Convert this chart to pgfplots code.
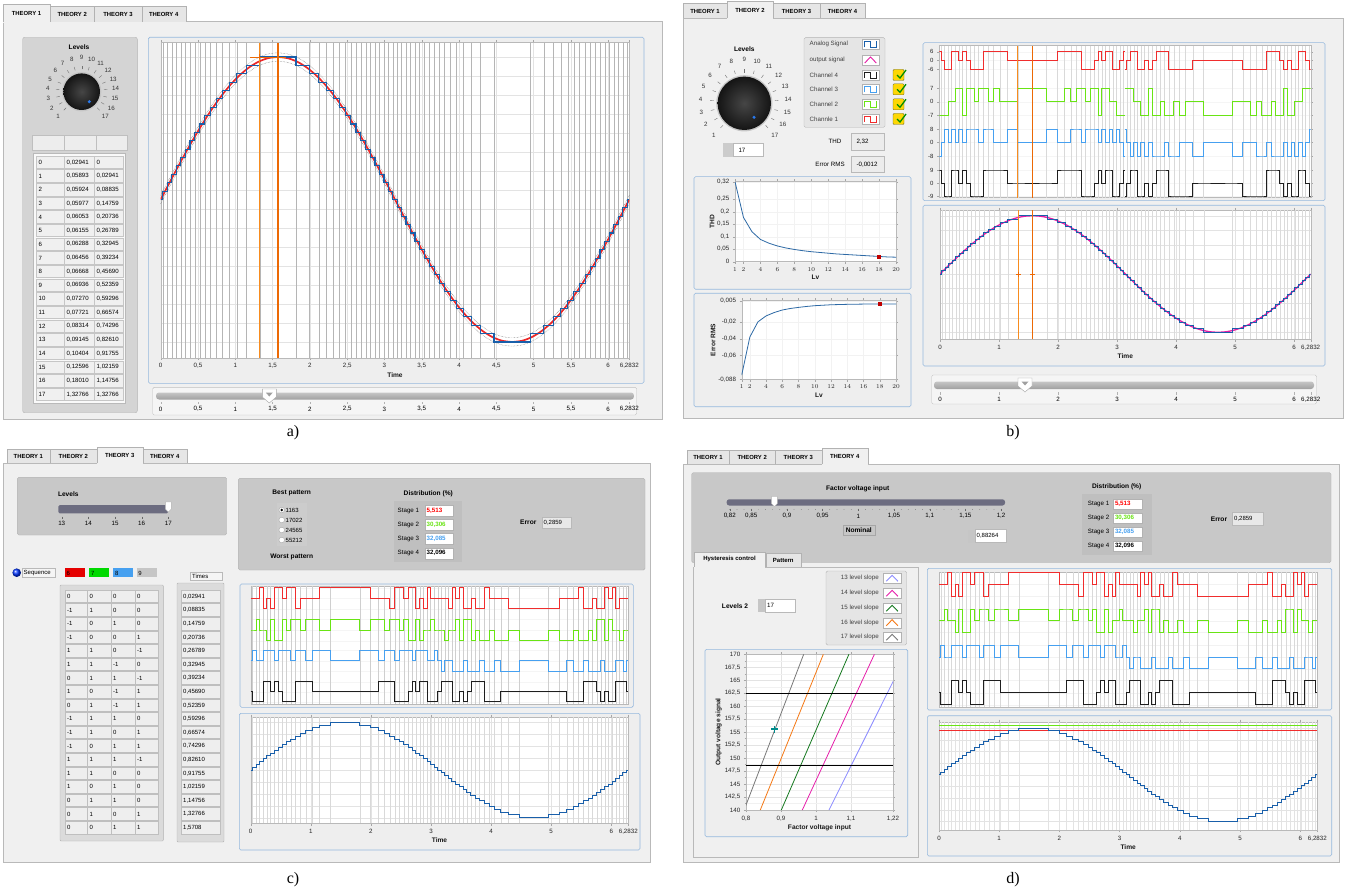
\documentclass[border=0pt]{standalone}
\usepackage{fontspec}
\setmainfont{Liberation Sans}
\newfontfamily\capfont{Liberation Serif}
\usepackage{pgfplots}
\usepackage{pgfplotstable}
\pgfplotsset{compat=1.18}

\newcommand\fs[1]{\fontsize{#1}{#1}\selectfont}

\definecolor{panelbg}{RGB}{240,240,240}
\definecolor{tabbg}{RGB}{230,230,230}
\definecolor{boxbg}{RGB}{212,212,212}
\definecolor{ctrlbg}{RGB}{200,200,200}
\definecolor{framebg}{RGB}{238,238,238}
\definecolor{frameedge}{RGB}{150,185,222}
\definecolor{stepblue}{RGB}{25,95,170}
\definecolor{sinered}{RGB}{235,40,40}
\definecolor{curA}{RGB}{248,140,30}
\definecolor{curB}{RGB}{236,105,5}
\definecolor{chR}{RGB}{240,45,45}
\definecolor{chG}{RGB}{105,228,20}
\definecolor{chB}{RGB}{70,160,240}
\definecolor{chK}{RGB}{30,30,30}
\definecolor{pinksig}{RGB}{228,30,165}
\definecolor{thdblue}{RGB}{45,105,165}
\definecolor{dotblue}{RGB}{40,120,235}
\definecolor{slate}{RGB}{108,108,128}
\definecolor{sl13}{RGB}{140,140,255}
\definecolor{sl14}{RGB}{230,30,170}
\definecolor{sl15}{RGB}{20,120,30}
\definecolor{sl16}{RGB}{245,120,20}
\definecolor{sl17}{RGB}{120,120,120}
\definecolor{crossc}{RGB}{0,140,140}

% switching instants of the 17-level staircase in the first quarter period
\pgfplotstableread{
k  t
1  0.02941
2  0.08835
3  0.14759
4  0.20736
5  0.26789
6  0.32945
7  0.39234
8  0.45690
9  0.52359
10 0.59296
11 0.66574
12 0.74296
13 0.82610
14 0.91755
15 1.02159
16 1.14756
17 1.32766
}\swtab

% first quarter period: interval start, staircase level, channel states
\pgfplotstableread{
t       lev cR cG cB cK bR bG bB
0.00000 0    0  0  0  0  1 -1 -1
0.02941 1    0  0  1 -1  0 -1  0
0.08835 2    0  1  0 -1 -1 -1  1
0.14759 3    1  0  0 -1 -1  0  0
0.20736 4   -1  0  1  1  1  0  1
0.26789 5    0 -1  1  1  1  1  0
0.32945 6   -1  1  1  0  0  1  1
0.39234 7    1 -1  0  1  1 -1  0
0.45690 8    1 -1  1  0  0  1  1
0.52359 9    0  1  1 -1 -1  1  1
0.59296 10   1  0  1 -1 -1  0  1
0.66574 11   1  1  0 -1 -1  1  0
0.74296 12  -1  1  1  1  1  1  1
0.82610 13   0  0  1  1  1  0  1
0.91755 14   0  1  0  1  1  1  0
1.02159 15   0  1  1  0  1  0  0
1.14756 16   1  0  1  0  0  0  1
1.32766 17   1  1  0  0  0  1  0
1.57080 17   1  1  0  0  0  1  0
}\quarter

% reference sine, first quarter
\pgfplotstableread{
t      s
0.0000 0.0000
0.1309 0.1305
0.2618 0.2588
0.3927 0.3827
0.5236 0.5000
0.6545 0.6088
0.7854 0.7071
0.9163 0.7934
1.0472 0.8660
1.1781 0.9239
1.3090 0.9659
1.4399 0.9914
1.5708 1.0000
}\sinq

\pgfplotstableread{
lv thd
1  0.320
2  0.177
3  0.120
4  0.089
5  0.074
6  0.063
7  0.055
8  0.049
9  0.044
10 0.040
11 0.037
12 0.034
13 0.031
14 0.029
15 0.027
16 0.025
17 0.023
18 0.021
19 0.019
20 0.018
}\thdtab

\pgfplotstableread{
lv err
1  -0.0830
2  -0.0380
3  -0.0200
4  -0.0130
5  -0.0090
6  -0.0060
7  -0.0042
8  -0.0029
9  -0.0018
10 -0.0009
12  0.0002
14  0.0007
16  0.0010
18  0.0012
20  0.0012
}\rmstab

% a quarter-wave symmetric curve built from its first quarter
\newcommand\qsym[5]{%
 \addplot[#1] table[x expr=\thisrow{t}, y expr={#5+#4*\thisrow{#3}}] {#2};
 \addplot[#1] table[x expr=3.14159-\thisrow{t}, y expr={#5+#4*\thisrow{#3}}] {#2};
 \addplot[#1] table[x expr=3.14159+\thisrow{t}, y expr={#5-#4*\thisrow{#3}}] {#2};
 \addplot[#1] table[x expr=6.28319-\thisrow{t}, y expr={#5-#4*\thisrow{#3}}] {#2};}
\newcommand\chan[4]{\qsym{#1, line width=0.9pt, const plot}{\quarter}{#2}{#3}{#4}}
% full-height lines at every switching instant: colour, vertical centre, half height
\newcommand\swgrid[3]{\qsym{only marks, mark=|, mark size=#3, color=#1, mark options={line width=0.35pt}}{\swtab}{k}{0}{#2}}

\pgfplotsset{
 lv/.style={
  scale only axis, anchor=north west,
  axis background/.style={fill=white},
  axis line style={draw=gray!55, line width=0.4pt},
  tick style={draw=gray!70, line width=0.3pt},
  tick align=outside,
  major tick length=2.2pt, minor tick length=1.2pt,
  tick label style={font=\fs{6.2}, text=black!85},
  label style={font=\fs{6.6}\bfseries, text=black!90},
  major grid style={draw=gray!22, line width=0.35pt},
  minor grid style={draw=gray!9, line width=0.3pt},
  xlabel style={yshift=3pt},
  scaled ticks=false,
 },
 tax/.style={lv, xmin=0, xmax=6.2832,
  xtick={0,1,2,3,4,5,6,6.2832}, xticklabels={0,1,2,3,4,5,6,{6,2832}},
  minor x tick num=4, xmajorgrids, xminorgrids, ymajorgrids,
  yticklabels={}, ytick style={draw=none}, clip marker paths=true,
 },
 pax/.style={lv, xmin=0, xmax=6.2832, xtick=\empty, ymajorgrids, clip marker paths=true},
}

% GUI helpers (scope units: 1pt, y downwards)
\newcommand\tabu[5]{%
 \draw[gray!60, fill=tabbg] (#1,#4) -- (#1,#3) -- (#2,#3) -- (#2,#4);
 \node[font=\fs{5.9}\bfseries, inner sep=0pt] at ({(#1+#2)/2},{(#3+#4)/2+0.6}) {#5};}
\newcommand\tabsel[5]{%
 \fill[panelbg] (#1,#3) rectangle (#2,#4+1);
 \draw[gray!60] (#1,#4) -- (#1,#3) -- (#2,#3) -- (#2,#4);
 \node[font=\fs{5.9}\bfseries, inner sep=0pt] at ({(#1+#2)/2},{(#3+#4)/2+0.3}) {#5};}
\newcommand\frm[4]{\draw[frameedge, fill=framebg, rounded corners=1.5pt, line width=0.6pt] (#1,#2) rectangle (#3,#4);}
\newcommand\knob[4]{%
 \foreach \i in {1,...,17}{%
  \pgfmathsetmacro\ang{226-17*(\i-1)}%
  \draw[black!55, line width=0.4pt] ({#1+(#3+4)*cos(\ang)},{#2-(#3+4)*sin(\ang)}) -- ({#1+(#3+7.5)*cos(\ang)},{#2-(#3+7.5)*sin(\ang)});
  \node[font=\fs{6.2}, inner sep=0pt, text=black!80] at ({#1+#4*cos(\ang)},{#2-#4*sin(\ang)}) {\i};
 }%
 \fill[gray!45] (#1,#2) circle ({#3+1.4});
 \shade[inner color=gray!55!black, outer color=black!92] (#1,#2) circle (#3);}
\newcommand\sqicon[3]{%
 \draw[gray!60, fill=white] (#1,#2-5) rectangle (#1+17.6,#2+5);
 \draw[#3, line width=0.9pt] (#1+3,#2+3) -- (#1+3,#2-3) -- (#1+9,#2-3) -- (#1+9,#2+3) -- (#1+14.6,#2+3) -- (#1+14.6,#2-3);}
\newcommand\caret[3]{%
 \draw[gray!60, fill=white] (#1,#2-5) rectangle (#1+17.6,#2+5);
 \draw[#3, line width=0.9pt] (#1+3,#2+3) -- (#1+8.8,#2-3) -- (#1+14.6,#2+3);}
\newcommand\chk[2]{%
 \draw[olive!70!black, fill=yellow!75!orange, rounded corners=1pt] (#1,#2-5.5) rectangle (#1+11,#2+5.5);
 \draw[green!55!black, line width=1.3pt] (#1+4,#2) -- (#1+7,#2+3) -- (#1+13,#2-5);}
\newcommand\thumb[2]{%
 \draw[gray!70, fill=white] (#1-7,#2-7) -- (#1+7,#2-7) -- (#1+7,#2+1) -- (#1,#2+7) -- (#1-7,#2+1) -- cycle;
 \fill[gray!75] (#1-3.5,#2-3.5) -- (#1+3.5,#2-3.5) -- (#1,#2+0.5) -- cycle;}
\newcommand\pin[2]{%
 \draw[gray!60, fill=white] (#1-3,#2-5) -- (#1+3,#2-5) -- (#1+3,#2+2) -- (#1,#2+5) -- (#1-3,#2+2) -- cycle;}

\begin{document}
\begin{tikzpicture}[font=\fs{6.2}]
\path[use as bounding box] (0pt,0pt) rectangle (1347pt,-893pt);
\fill[white] (0pt,0pt) rectangle (1347pt,-893pt);

\begin{scope}[x=1pt,y=-1pt]
% ================= panel a =================
\draw[gray!55, fill=panelbg] (3,21.7) rectangle (662,419);
\tabu{50}{94.3}{6.7}{21.7}{THEORY 2}
\tabu{94.3}{141.7}{6.7}{21.7}{THEORY 3}
\tabu{141.7}{185.7}{6.7}{21.7}{THEORY 4}
\tabsel{3}{50}{4.5}{21.7}{THEORY 1}
\draw[gray!60, fill=boxbg, rounded corners=2pt] (22.7,37.3) rectangle (137.3,412.7);
\node[font=\fs{6.6}\bfseries] at (79,47.3) {Levels};
\knob{81.7}{91.7}{18.3}{34}
\fill[dotblue] (89.3,101.7) circle (1.7);
\foreach \x/\w in {31.7/32.3,64/32,96/30.7} \draw[gray!50, fill=gray!14] (\x,135) rectangle ++(\w,15);
\draw[gray!55, fill=gray!5] (33,153.5) rectangle (125.5,403.5);
\foreach \n/\wa/\wb [count=\i from 0] in {0/{0,02941}/0, 1/{0,05893}/{0,02941}, 2/{0,05924}/{0,08835}, 3/{0,05977}/{0,14759},
 4/{0,06053}/{0,20736}, 5/{0,06155}/{0,26789}, 6/{0,06288}/{0,32945}, 7/{0,06456}/{0,39234}, 8/{0,06668}/{0,45690},
 9/{0,06936}/{0,52359}, 10/{0,07270}/{0,59296}, 11/{0,07721}/{0,66574}, 12/{0,08314}/{0,74296}, 13/{0,09145}/{0,82610},
 14/{0,10404}/{0,91755}, 15/{0,12596}/{1,02159}, 16/{0,18010}/{1,14756}, 17/{1,32766}/{1,32766}}{
  \pgfmathsetmacro\yy{155.8+13.66*\i}
  \draw[gray!45, fill=gray!12] (36,\yy) rectangle (64,\yy+12.6);
  \draw[gray!45, fill=gray!12] (64,\yy) rectangle (94,\yy+12.6);
  \draw[gray!45, fill=gray!12] (94,\yy) rectangle (123,\yy+12.6);
  \node[anchor=west, inner sep=0pt, font=\fs{6.1}] at (38.5,\yy+6.5) {\n};
  \node[anchor=west, inner sep=0pt, font=\fs{6.1}] at (66.5,\yy+6.5) {\wa};
  \node[anchor=west, inner sep=0pt, font=\fs{6.1}] at (96.5,\yy+6.5) {\wb};
}
\frm{148.3}{37.3}{644}{383.3}
\draw[gray!50, fill=gray!8, rounded corners=1.5pt] (152.7,387.3) rectangle (636.7,415);
\shade[top color=gray!45, bottom color=gray!75, rounded corners=3pt] (156,392.5) rectangle (634,399.5);
\foreach \v/\l in {0/0,0.5/{0,5},1/1,1.5/{1,5},2/2,2.5/{2,5},3/3,3.5/{3,5},4/4,4.5/{4,5},5/5,5.5/{5,5},6/6,6.2832/{6,2832}}{
  \draw[gray!60, line width=0.3pt] ({160.7+\v*74.58},402) -- ({160.7+\v*74.58},404);
  \node[font=\fs{6.2}, inner sep=0pt] at ({160.7+\v*74.58},409) {\l};
}
\thumb{269.3}{396}

% ================= panel b =================
\draw[gray!55, fill=panelbg] (683,18) rectangle (1343,418);
\tabu{683}{727}{3.5}{18}{THEORY 1}
\tabu{773}{820}{3.5}{18}{THEORY 3}
\tabu{820}{865}{3.5}{18}{THEORY 4}
\tabsel{727}{773}{1.5}{18}{THEORY 2}
\node[font=\fs{6.6}\bfseries] at (744.3,49.3) {Levels};
\knob{744.3}{103.3}{26.7}{44}
\fill[dotblue] (754,117.3) circle (1.7);
\fill[gray!40] (723.3,143.3) rectangle (733,156.7);
\draw[gray!55, fill=white] (733,143.3) rectangle (763.3,156.7);
\node[anchor=west, font=\fs{6.2}] at (735,150) {17};
\draw[gray!60, fill=gray!20, rounded corners=1.5pt] (804,37.7) rectangle (885,127.3);
\foreach \yy/\l in {44.3/Analog Signal,60/output signal,75/Channel 4,89.3/Channel 3,104.3/Channel 2,119/Channle 1}
  \node[anchor=west, font=\fs{6.2}, text=black!75, inner sep=0pt] at (809.5,\yy) {\l};
\sqicon{861.7}{44.3}{stepblue}
\caret{861.7}{60}{pinksig}
\sqicon{861.7}{75}{chK}
\sqicon{861.7}{89.3}{chB}
\sqicon{861.7}{104.3}{chG}
\sqicon{861.7}{119}{chR}
\chk{893}{75}\chk{893}{89.3}\chk{893}{104.3}\chk{893}{119}
\node[font=\fs{6.2}] at (835,141.7) {THD};
\draw[gray!55, fill=gray!15] (850.7,133.3) rectangle (884,150);
\node[anchor=west, font=\fs{6.2}] at (853,141.7) {2,32};
\node[font=\fs{6.2}] at (830,164.5) {Error RMS};
\draw[gray!55, fill=gray!15] (850.7,156.7) rectangle (884,172.3);
\node[anchor=west, font=\fs{6.2}] at (853,164.5) {-0,0012};
\frm{694}{176.7}{911}{289.3}
\frm{694}{293.3}{911}{406.7}
\frm{923}{42.7}{1325}{200.7}
\frm{923}{205.3}{1325}{366}
\draw[gray!50, fill=gray!8, rounded corners=1.5pt] (931.7,375) rectangle (1316.7,404);
\shade[top color=gray!45, bottom color=gray!75, rounded corners=3pt] (934,381.5) rectangle (1314,389);
\foreach \v/\l in {0/0,1/1,2/2,3/3,4/4,5/5,6/6,6.2832/{6,2832}}{
  \draw[gray!60, line width=0.3pt] ({940+\v*59},392) -- ({940+\v*59},394.5);
  \node[font=\fs{6.2}, inner sep=0pt] at ({940+\v*59},399.5) {\l};
}
\thumb{1025}{385}

% ================= panel c =================
\draw[gray!55, fill=panelbg] (3,463.3) rectangle (650,862);
\tabu{6.7}{50}{449.3}{463.3}{THEORY 1}
\tabu{50}{96.7}{449.3}{463.3}{THEORY 2}
\tabu{142.7}{186.7}{449.3}{463.3}{THEORY 4}
\tabsel{96.7}{142.7}{447}{463.3}{THEORY 3}
\draw[gray!60, fill=ctrlbg, rounded corners=1.5pt] (17.3,477.3) rectangle (226.7,535);
\node[font=\fs{6.6}\bfseries] at (68.3,494.3) {Levels};
\fill[slate, rounded corners=1.5pt] (58.3,505) rectangle (168.3,513.3);
\foreach \i in {13,...,17}{
  \draw[black!60, line width=0.3pt] ({61.7+26.65*(\i-13)},516.5) -- ({61.7+26.65*(\i-13)},518.5);
  \node[font=\fs{6.2}, inner sep=0pt] at ({61.7+26.65*(\i-13)},523.5) {\i};
}
\pin{168.3}{507}
\shade[ball color=blue!80!cyan] (16.7,572.7) circle (4.3);
\draw[gray!55, fill=gray!8] (21.7,568.3) rectangle (55,577.3);
\node[anchor=west, font=\fs{6}, inner sep=0pt] at (23.5,573) {Sequence};
\fill[red!90!black] (65,568.3) rectangle (85,577.3);
\fill[green!85!black] (89.3,568.3) rectangle (109.3,577.3);
\fill[chB] (113.3,568.3) rectangle (133.3,577.3);
\fill[gray!45] (136.7,568.3) rectangle (156.7,577.3);
\node[anchor=west, font=\fs{6}, inner sep=0pt] at (66.5,573) {6};
\node[anchor=west, font=\fs{6}, inner sep=0pt] at (90.8,573) {7};
\node[anchor=west, font=\fs{6}, inner sep=0pt] at (114.8,573) {8};
\node[anchor=west, font=\fs{6}, inner sep=0pt] at (138.2,573) {9};
\draw[gray!55, fill=gray!8] (190,571.7) rectangle (221.7,580);
\node[anchor=west, font=\fs{6}, inner sep=0pt] at (192,576) {Times};
\draw[gray!60, fill=gray!28, rounded corners=1pt] (60,585) rectangle (163.3,841);
\foreach \sa/\sb/\sc/\sd [count=\i from 0] in {0/0/0/0, -1/1/0/0, -1/0/1/0, -1/0/0/1, 1/1/0/-1, 1/1/-1/0, 0/1/1/-1, 1/0/-1/1, 0/1/-1/1,
 -1/1/1/0, -1/1/0/1, -1/0/1/1, 1/1/1/-1, 1/1/0/0, 1/0/1/0, 0/1/1/0, 0/1/0/1, 0/0/1/1}{
  \pgfmathsetmacro\yy{590+13.6*\i}
  \foreach \xa/\xb in {65/87.3,87.3/111,111/135,135/158.3} \draw[gray!50, fill=gray!13] (\xa,\yy) rectangle (\xb,\yy+12.6);
  \node[anchor=west, inner sep=0pt, font=\fs{6}] at (67,\yy+6.5) {\sa};
  \node[anchor=west, inner sep=0pt, font=\fs{6}] at (89.3,\yy+6.5) {\sb};
  \node[anchor=west, inner sep=0pt, font=\fs{6}] at (113,\yy+6.5) {\sc};
  \node[anchor=west, inner sep=0pt, font=\fs{6}] at (137,\yy+6.5) {\sd};
}
\draw[gray!60, fill=gray!28, rounded corners=1pt] (177,583) rectangle (224,842);
\foreach \tv [count=\i from 0] in {{0,02941},{0,08835},{0,14759},{0,20736},{0,26789},{0,32945},{0,39234},{0,45690},{0,52359},
 {0,59296},{0,66574},{0,74296},{0,82610},{0,91755},{1,02159},{1,14756},{1,32766},{1,5708}}{
  \pgfmathsetmacro\yy{590+13.6*\i}
  \draw[gray!50, fill=gray!13] (181,\yy) rectangle (220,\yy+12.6);
  \node[anchor=west, inner sep=0pt, font=\fs{6}] at (183,\yy+6.5) {\tv};
}
\draw[gray!60, fill=ctrlbg, rounded corners=1.5pt] (238.3,478.3) rectangle (645,570);
\node[font=\fs{6.6}\bfseries] at (291.7,493.3) {Best pattern};
\fill[gray!40] (276.7,503.3) rectangle (306.7,546);
\foreach \yy/\l in {510/1163,520/17022,530/24565,540/55212}{
  \draw[gray!70, fill=white] (281.7,\yy) circle (2.8);
  \node[anchor=west, font=\fs{6}, inner sep=0pt] at (285.5,\yy) {\l};
}
\fill[black] (281.7,510) circle (1.3);
\node[font=\fs{6.6}\bfseries] at (291.7,557.3) {Worst pattern};
\node[font=\fs{6.6}\bfseries] at (428.3,494) {Distribution (\%)};
\fill[gray!50] (394,501) rectangle (461.7,561.7);
\foreach \yy/\l/\v/\cc in {510.7/1/{5,513}/red, 525/2/{30,306}/chG, 539/3/{32,085}/chB, 553.3/4/{32,096}/black}{
  \node[anchor=west, font=\fs{6.2}, inner sep=0pt] at (397.5,\yy) {Stage \l};
  \draw[gray!60, fill=white] (425,\yy-5.5) rectangle (452.7,\yy+5.5);
  \node[anchor=west, font=\fs{6.2}\bfseries, text=\cc, inner sep=0pt] at (426.5,\yy) {\v};
}
\node[font=\fs{6.6}\bfseries] at (528.3,522.7) {Error};
\draw[gray!55, fill=gray!18] (541.7,516.7) rectangle (570.7,528.3);
\node[anchor=west, font=\fs{6}, inner sep=0pt] at (543.5,522.5) {0,2859};
\frm{240}{584}{633.3}{707.3}
\frm{239.3}{713.3}{640}{850}

% ================= panel d =================
\draw[gray!55, fill=panelbg] (683,464) rectangle (1339,862);
\tabu{686.7}{729.3}{450}{464}{THEORY 1}
\tabu{729.3}{775}{450}{464}{THEORY 2}
\tabu{775}{821.7}{450}{464}{THEORY 3}
\tabsel{821.7}{867.7}{448}{464}{THEORY 4}
\draw[gray!60, fill=ctrlbg, rounded corners=1.5pt] (691.7,472.7) rectangle (1331,562.7);
\node[font=\fs{6.6}\bfseries] at (857.7,489) {Factor voltage input};
\fill[slate, rounded corners=2.5pt] (726.7,499.3) rectangle (1005,505.5);
\foreach \v/\l in {0.82/{0,82},0.85/{0,85},0.9/{0,9},0.95/{0,95},1/1,1.05/{1,05},1.1/{1,1},1.15/{1,15},1.2/{1,2}}{
  \draw[black!60, line width=0.3pt] ({858.3+(\v-1)*714},508.5) -- ({858.3+(\v-1)*714},510.5);
  \node[font=\fs{6.2}, inner sep=0pt] at ({858.3+(\v-1)*714},516) {\l};
}
\foreach \k in {0,...,38} \fill[black!55] ({729.8+\k*7.14},509.5) circle (0.35);
\pin{774.3}{501.5}
\draw[gray!70, fill=gray!45] (842.7,525.5) rectangle (875,535.5);
\node[font=\fs{6.6}\bfseries] at (858.8,530.5) {Nominal};
\fill[gray!45] (968,529.5) rectangle (975,542.5);
\draw[gray!55, fill=white] (975,529.5) rectangle (1006,542.5);
\node[anchor=west, font=\fs{6}, inner sep=0pt] at (976.5,536) {0,88264};
\node[font=\fs{6.6}\bfseries] at (1116.7,486.7) {Distribution (\%)};
\fill[gray!50] (1082.3,493.7) rectangle (1152.3,555.3);
\foreach \yy/\l/\v/\cc in {503.7/1/{5,513}/red, 517.7/2/{30,306}/chG, 532/3/{32,085}/chB, 546/4/{32,096}/black}{
  \node[anchor=west, font=\fs{6.2}, inner sep=0pt] at (1087.7,\yy) {Stage \l};
  \draw[gray!60, fill=white] (1113.3,\yy-5) rectangle (1142.3,\yy+5);
  \node[anchor=west, font=\fs{6.2}\bfseries, text=\cc, inner sep=0pt] at (1114.8,\yy) {\v};
}
\node[font=\fs{6.6}\bfseries] at (1219,519.3) {Error};
\draw[gray!55, fill=gray!18] (1232.3,512) rectangle (1263.3,525.3);
\node[anchor=west, font=\fs{6}, inner sep=0pt] at (1234,518.7) {0,2859};
% sub-panel with its tabs
\draw[gray!55, fill=panelbg] (693.3,566.7) rectangle (918.3,856.7);
\draw[gray!60, fill=tabbg] (766,566.7) -- (766,553.3) -- (800.7,553.3) -- (800.7,566.7);
\node[font=\fs{6}\bfseries] at (783.3,560) {Pattern};
\fill[panelbg] (694,551.7) rectangle (765,567.5);
\draw[gray!60] (694,566.7) -- (694,551.7) -- (765,551.7) -- (765,566.7);
\node[font=\fs{6}\bfseries] at (729.5,559.3) {Hysteresis control};
\draw[gray!60, fill=gray!20, rounded corners=1.5pt] (826,571) rectangle (906.7,645);
\foreach \yy/\l/\cc in {578.3/13/sl13, 593.3/14/sl14, 608.3/15/sl15, 622.7/16/sl16, 637.3/17/sl17}{
  \node[anchor=east, font=\fs{6.2}, text=black!75, inner sep=0pt] at (879,\yy) {\l\ level slope};
  \caret{883.3}{\yy}{\cc}
}
\node[font=\fs{6.6}\bfseries] at (735,605.7) {Levels 2};
\fill[gray!45] (758,599.3) rectangle (765,611.7);
\draw[gray!55, fill=white] (765,599.3) rectangle (795,611.7);
\node[anchor=west, font=\fs{6.2}, inner sep=0pt] at (767,605.5) {17};
\frm{705}{649.3}{907.7}{836.7}
\frm{927.3}{568.3}{1331.7}{710}
\frm{927.3}{715.7}{1331.7}{856}

% captions
\node[font=\capfont\fs{16}] at (293,433) {a)};
\node[font=\capfont\fs{16}] at (1013,433) {b)};
\node[font=\capfont\fs{16}] at (293,880) {c)};
\node[font=\capfont\fs{16}] at (1013,880) {d)};
\end{scope}

% ---------- a: staircase against the reference sine ----------
\begin{axis}[lv, at={(160.7pt,-42.7pt)}, width=468.6pt, height=315pt,
  xmin=0, xmax=6.2832, ymin=-1.11, ymax=1.10,
  xtick={0,0.5,1,1.5,2,2.5,3,3.5,4,4.5,5,5.5,6,6.2832},
  xticklabels={0,{0,5},1,{1,5},2,{2,5},3,{3,5},4,{4,5},5,{5,5},6,{6,2832}},
  minor x tick num=4,
  ytick={-1,-0.8667,-0.7333,-0.6,-0.4667,-0.3333,-0.2,-0.0667,0.0667,0.2,0.3333,0.4667,0.6,0.7333,0.8667,1},
  yticklabels={}, ytick style={draw=none},
  xmajorgrids, xminorgrids, ymajorgrids, clip marker paths=true,
  xlabel={Time}]
\swgrid{gray!58}{-0.005}{157.5pt}
\qsym{densely dotted, black!60, line width=0.45pt, smooth}{\sinq}{s}{1}{0.0294}
\qsym{densely dotted, black!60, line width=0.45pt, smooth}{\sinq}{s}{1}{-0.0294}
\qsym{sinered, line width=1.7pt, smooth}{\sinq}{s}{1}{0}
\qsym{stepblue, line width=1.1pt, const plot}{\quarter}{lev}{0.0588235}{0}
\addplot[curA, line width=1.5pt] coordinates {(1.32766,-1.11) (1.32766,1.10)};
\addplot[curB, line width=1.5pt] coordinates {(1.5708,-1.11) (1.5708,1.10)};
\addplot[curB, line width=0.9pt] coordinates {(1.20,1) (1.68,1)};
\addplot[curB, only marks, mark=+, mark size=2.5pt, line width=0.9pt] coordinates {(1.32766,1) (1.5708,1)};
\end{axis}

% ---------- b: THD versus number of levels ----------
\begin{axis}[lv, at={(735pt,-181.7pt)}, width=161pt, height=80pt,
  xmin=1, xmax=20, ymin=0, ymax=0.32,
  xtick={1,2,4,6,8,10,12,14,16,18,20},
  ytick={0,0.05,0.1,0.15,0.2,0.25,0.32},
  yticklabels={0,{0,05},{0,1},{0,15},{0,2},{0,25},{0,32}},
  xmajorgrids, ymajorgrids, major grid style={draw=gray!10},
  xlabel={Lv}, ylabel={THD}, ylabel style={yshift=-4pt}]
\addplot[thdblue, line width=0.8pt] table[x=lv, y=thd] {\thdtab};
\addplot[only marks, mark=square*, mark size=1.5pt, color=red!75!black] coordinates {(18,0.021)};
\end{axis}

% ---------- b: RMS error versus number of levels ----------
\begin{axis}[lv, at={(741.7pt,-300.7pt)}, width=154.3pt, height=78.6pt,
  xmin=1, xmax=20, ymin=-0.088, ymax=0.005,
  xtick={1,2,4,6,8,10,12,14,16,18,20},
  ytick={-0.088,-0.06,-0.04,-0.02,0.005},
  yticklabels={{-0,088},{-0,06},{-0,04},{-0,02},{0,005}},
  xmajorgrids, ymajorgrids, major grid style={draw=gray!10},
  xlabel={Lv}, ylabel={Error RMS}, ylabel style={yshift=-4pt}]
\addplot[thdblue, line width=0.8pt] table[x=lv, y=err] {\rmstab};
\addplot[only marks, mark=square*, mark size=1.5pt, color=red!75!black] coordinates {(18,0.0012)};
\end{axis}

% ---------- b: channel switching states ----------
\begin{axis}[pax, at={(939.3pt,-45.7pt)}, width=371.4pt, height=152pt,
  ymin=-1, ymax=151,
  ytick={0.7,13.7,26.7,40.7,54.2,67.7,81.2,94.9,108.6,127.4,136.2,145},
  yticklabels={-9,0,9,-8,0,8,-7,0,7,-6,0,6},
  major grid style={draw=gray!8}, yticklabel style={font=\fs{6}}]
\swgrid{gray!30}{75}{76pt}
\chan{chR}{bR}{8.8}{136.2}
\chan{chG}{bG}{13.7}{94.9}
\chan{chB}{bB}{13.5}{54.2}
\chan{chK}{bR}{13}{13.7}
\addplot[curA, line width=1.1pt] coordinates {(1.32766,-1) (1.32766,151)};
\addplot[curB, line width=1.1pt] coordinates {(1.5708,-1) (1.5708,151)};
\end{axis}

% ---------- b: output staircase ----------
\begin{axis}[tax, at={(940pt,-210pt)}, width=370.7pt, height=129.3pt,
  ymin=-1.12, ymax=1.098, ytick={-1,-0.75,...,1}, xlabel={Time}]
\swgrid{gray!28}{-0.011}{64.65pt}
\qsym{pinksig, line width=1.3pt, smooth}{\sinq}{s}{1}{0}
\qsym{stepblue, line width=0.9pt, const plot}{\quarter}{lev}{0.0588235}{0}
\addplot[curA, line width=1.1pt] coordinates {(1.32766,-1.12) (1.32766,1.098)};
\addplot[curB, line width=1.1pt] coordinates {(1.5708,-1.12) (1.5708,1.098)};
\addplot[curB, only marks, mark=+, mark size=2.5pt, line width=0.8pt] coordinates {(1.32766,0) (1.5708,0)};
\end{axis}

% ---------- c: channel switching states ----------
\begin{axis}[pax, at={(250.7pt,-586.3pt)}, width=377.6pt, height=118pt,
  ymin=-1, ymax=117, ytick={1.6,11.6,21.6,31.9,42.6,53.1,62.6,73.3,84,94.5,105,115.5},
  yticklabels={}, ytick style={draw=none}, major grid style={draw=gray!8}]
\swgrid{gray!38}{58}{59pt}
\chan{chR}{cR}{10.5}{105}
\chan{chG}{cG}{10.7}{73.3}
\chan{chB}{cB}{10.5}{42.6}
\chan{chK}{cK}{10}{11.6}
\end{axis}

% ---------- c: output staircase ----------
\begin{axis}[tax, at={(250.7pt,-716.7pt)}, width=377.6pt, height=106.6pt,
  ymin=-1.115, ymax=1.115, ytick={-1,-0.75,...,1}, xlabel={Time}]
\swgrid{gray!30}{0}{53.3pt}
\qsym{stepblue, line width=1pt, const plot}{\quarter}{lev}{0.0588235}{0}
\end{axis}

% ---------- d: hysteresis bands ----------
\begin{axis}[lv, at={(746pt,-654.3pt)}, width=147pt, height=155.7pt,
  xmin=0.8, xmax=1.22, ymin=140, ymax=170,
  xtick={0.8,0.9,1,1.1,1.22}, xticklabels={{0,8},{0,9},1,{1,1},{1,22}},
  ytick={140,142.5,...,170},
  yticklabels={140,{142,5},145,{147,5},150,{152,5},155,{157,5},160,{162,5},165,{167,5},170},
  minor x tick num=4, minor y tick num=1,
  xmajorgrids, ymajorgrids, xminorgrids, yminorgrids,
  major grid style={draw=gray!22}, minor grid style={draw=gray!11},
  xlabel={Factor voltage input}, ylabel={Output voltage signal}, ylabel style={yshift=-4pt}]
\addplot[sl17, line width=0.8pt] coordinates {(0.7946,140) (0.9648,170)};
\addplot[sl16, line width=0.8pt] coordinates {(0.8408,140) (1.0210,170)};
\addplot[sl15, line width=0.8pt] coordinates {(0.9009,140) (1.0940,170)};
\addplot[sl14, line width=0.8pt] coordinates {(0.9609,140) (1.1668,170)};
\addplot[sl13, line width=0.8pt] coordinates {(1.0370,140) (1.2593,170)};
\addplot[black, line width=0.9pt] coordinates {(0.8,162.5) (1.22,162.5)};
\addplot[black, line width=0.9pt] coordinates {(0.8,148.6) (1.22,148.6)};
\addplot[crossc, only marks, mark=+, mark size=3.5pt, line width=1.1pt] coordinates {(0.88264,155.6)};
\end{axis}

% ---------- d: channel switching states ----------
\begin{axis}[pax, at={(939pt,-571.7pt)}, width=378.3pt, height=135pt,
  ymin=-1, ymax=134, ytick={0.8,13,25.2,37,48.7,60.4,73.3,85,96.7,109.4,121.4,133.4},
  yticklabels={}, ytick style={draw=none}, major grid style={draw=gray!10}]
\swgrid{gray!30}{66.5}{67.5pt}
\chan{chR}{cR}{12}{121.4}
\chan{chG}{cG}{11.7}{85}
\chan{chB}{cB}{11.7}{48.7}
\chan{chK}{cK}{12.2}{13}
\end{axis}

% ---------- d: output staircase and band limits ----------
\begin{axis}[tax, at={(939pt,-721.7pt)}, width=378.3pt, height=108.3pt,
  ymin=-1.18, ymax=1.14, ytick={-1,-0.75,...,1}, xlabel={Time}]
\swgrid{gray!22}{-0.02}{54.15pt}
\addplot[chG, line width=1pt] coordinates {(0,1.057) (6.2832,1.057)};
\addplot[chR, line width=0.8pt] coordinates {(0,0.964) (6.2832,0.964)};
\qsym{stepblue, line width=1pt, const plot}{\quarter}{lev}{0.0588235}{0}
\end{axis}
\end{tikzpicture}
\end{document}
